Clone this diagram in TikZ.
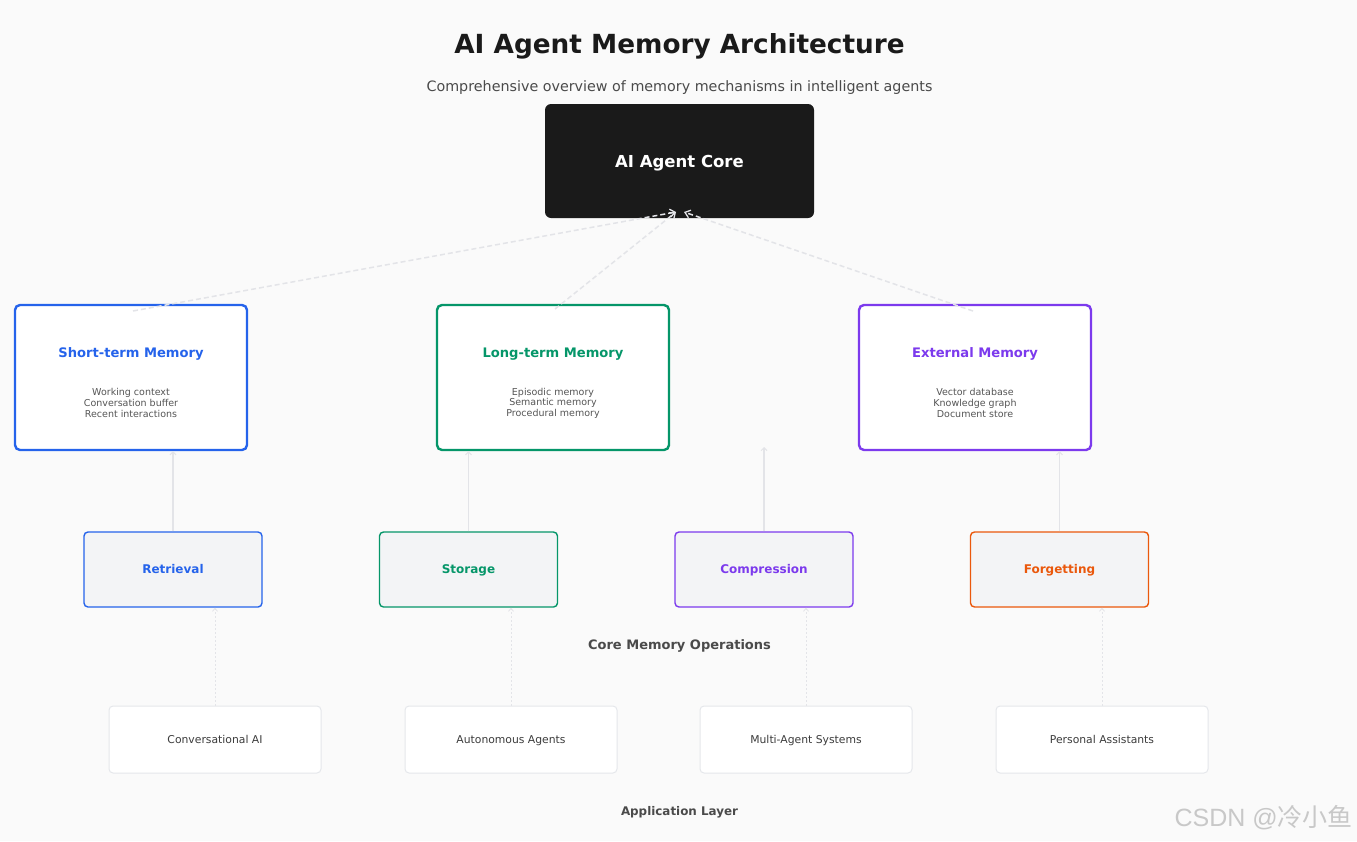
\documentclass[tikz,border=0pt]{standalone}
\usepackage{fontspec}
\setmainfont{DejaVu Sans}
\newfontfamily\cjk{Noto Sans CJK SC}
\newfontfamily\wmlatin{Liberation Sans}
\usetikzlibrary{arrows.meta,calc}
\definecolor{bg}{HTML}{FAFAFA}
\definecolor{ink}{HTML}{1A1A1A}
\definecolor{sub}{HTML}{4A4A4A}
\definecolor{body}{HTML}{555555}
\definecolor{cblue}{HTML}{2563EB}
\definecolor{cgreen}{HTML}{059669}
\definecolor{cpurple}{HTML}{7C3AED}
\definecolor{corange}{HTML}{EA580C}
\definecolor{opfill}{HTML}{F3F4F6}
\definecolor{appline}{HTML}{E5E7EB}
\definecolor{conn}{HTML}{E3E4E8}
\definecolor{wm}{HTML}{C8C8C8}
\tikzset{
  membox/.style={draw=#1, line width=2.4pt, fill=white, rounded corners=5pt, minimum width=232pt, minimum height=145pt, inner sep=0pt},
  opbox/.style={draw=#1, line width=1.4pt, fill=opfill, rounded corners=4pt, minimum width=178pt, minimum height=75pt, inner sep=0pt},
  optext/.style={text=#1, font=\fontsize{12}{14}\selectfont\bfseries, inner sep=0pt, text height=8.8pt, text depth=2.5pt},
  appbox/.style={draw=appline, line width=1pt, fill=white, rounded corners=4pt, minimum width=212pt, minimum height=67pt, inner sep=0pt},
  apptext/.style={text=ink!85, font=\fontsize{10.8}{13}\selectfont, inner sep=0pt, text height=7.9pt, text depth=2.3pt},
  memtitle/.style={text=#1, font=\fontsize{13.1}{15}\selectfont\bfseries, inner sep=0pt},
  membody/.style={text=body, font=\fontsize{9.5}{10.6}\selectfont, align=center, inner sep=0pt},
  coreconn/.style={draw=conn, line width=1.5pt, dash pattern=on 5pt off 3pt, -{Straight Barb[length=5pt,width=8pt,line width=1.3pt]}},
  opconn/.style={draw=conn, line width=1.3pt, -{Straight Barb[length=3pt,width=6pt,line width=1pt]}},
  appconn/.style={draw=conn, line width=1pt, dash pattern=on 2pt off 2pt, -{Straight Barb[length=3pt,width=5pt,line width=0.8pt]}},
}
\begin{document}
\begin{tikzpicture}[x=1pt,y=-1pt]
\fill[bg] (0,0) rectangle (1357,841);
\useasboundingbox (0,0) rectangle (1357,841);

\node[text=ink, font=\fontsize{26.3}{30}\selectfont\bfseries] (title) at (679.5,46) {AI Agent Memory Architecture};
\node[text=sub, font=\fontsize{14.3}{16}\selectfont] (subtitle) at (679.5,88) {Comprehensive overview of memory mechanisms in intelligent agents};

\node[fill=ink, rounded corners=6pt, minimum width=269pt, minimum height=114pt] (core) at (679.5,161) {};
\node[text=white, font=\fontsize{16.5}{19}\selectfont\bfseries, inner sep=0pt] (coret) at (679.5,163) {AI Agent Core};

% memory boxes
\node[membox=cblue] (st) at (131,377.5) {};
\node[memtitle=cblue] (stt) at (131,354) {Short-term Memory};
\node[membody] (stb) at (131,403) {Working context\\Conversation buffer\\Recent interactions};

\node[membox=cgreen] (lt) at (553,377.5) {};
\node[memtitle=cgreen] (ltt) at (553,354) {Long-term Memory};
\node[membody] (ltb) at (553,403) {Episodic memory\\Semantic memory\\Procedural memory};

\node[membox=cpurple] (ex) at (975,377.5) {};
\node[memtitle=cpurple] (ext) at (975,354) {External Memory};
\node[membody] (exb) at (975,403) {Vector database\\Knowledge graph\\Document store};

% connectors to core
\coordinate (cinL) at (676,212);
\coordinate (cinR) at (684,212);
\coordinate (stOut) at (133,311);
\coordinate (ltOut) at (555,309);
\coordinate (exOut) at (973,311);
\draw[coreconn] (stOut) -- (cinL);
\draw[coreconn] (ltOut) -- (cinL);
\draw[coreconn] (exOut) -- (cinR);

% operations
\node[opbox=cblue] (ret) at (173,569.5) {};
\node[opbox=cgreen] (sto) at (468.5,569.5) {};
\node[opbox=cpurple] (com) at (764,569.5) {};
\node[opbox=corange] (forg) at (1059.5,569.5) {};
\node[optext=cblue] (rett) at (173,570) {Retrieval};
\node[optext=cgreen] (stot) at (468.5,570) {Storage};
\node[optext=cpurple] (comt) at (764,570) {Compression};
\node[optext=corange] (forgt) at (1059.5,570) {Forgetting};

\coordinate (comTop) at (764,447);
\draw[opconn] (ret.north) -- (ret.north |- st.south);
\draw[opconn] (sto.north) -- (sto.north |- lt.south);
\draw[opconn] (com.north) -- (comTop);
\draw[opconn] (forg.north) -- (forg.north |- ex.south);

\node[text=sub, font=\fontsize{13}{15}\selectfont\bfseries] (opslabel) at (679.5,646) {Core Memory Operations};

% applications
\node[appbox] (a1) at (215,739.5) {};
\node[appbox] (a2) at (511,739.5) {};
\node[appbox] (a3) at (806,739.5) {};
\node[appbox] (a4) at (1102,739.5) {};
\node[apptext] (a1t) at (215,740.5) {Conversational AI};
\node[apptext] (a2t) at (511,740.5) {Autonomous Agents};
\node[apptext] (a3t) at (806,740.5) {Multi-Agent Systems};
\node[apptext] (a4t) at (1102,740.5) {Personal Assistants};

\draw[appconn] (a1.north) -- (a1.north |- ret.south);
\draw[appconn] (a2.north) -- (a2.north |- sto.south);
\draw[appconn] (a3.north) -- (a3.north |- com.south);
\draw[appconn] (a4.north) -- (a4.north |- forg.south);

\node[text=sub, font=\fontsize{11.9}{14}\selectfont\bfseries] (applabel) at (679.5,812) {Application Layer};

\node[text=wm, font=\fontsize{25}{29}\selectfont, anchor=east, inner sep=0pt] (wmark) at (1353,818) {{\wmlatin CSDN @}{\cjk 冷小鱼}};
\end{tikzpicture}
\end{document}
